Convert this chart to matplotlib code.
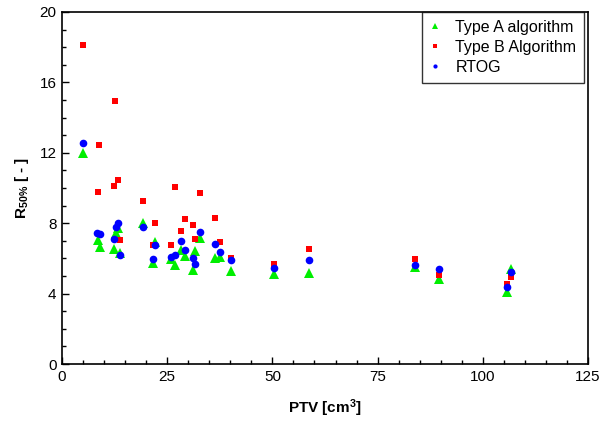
import matplotlib
matplotlib.use("Agg")
import matplotlib.pyplot as plt
from matplotlib.ticker import MultipleLocator

plt.rcParams['font.family'] = ['Liberation Sans', 'DejaVu Sans']
plt.rcParams['mathtext.fontset'] = 'custom'
plt.rcParams['mathtext.rm'] = 'Liberation Sans'
plt.rcParams['mathtext.bf'] = 'Liberation Sans:bold'
plt.rcParams['mathtext.default'] = 'bf'

# PTV volumes (cm^3)
ptv = [4.9, 8.5, 9.0, 12.4, 12.8, 13.3, 13.8,
       19.2, 21.7, 22.0, 25.8, 26.9, 28.3, 29.3, 31.1, 31.5, 32.7,
       36.4, 37.6, 40.2, 50.4, 58.7, 84.0, 89.6, 105.8, 106.8]

type_a = [12.0, 7.05, 6.63, 6.55, 7.45, 7.7, 6.3,
          8.0, 5.72, 6.95, 5.98, 5.65, 6.48, 6.14, 5.34, 6.43, 7.14,
          6.02, 6.08, 5.31, 5.1, 5.17, 5.49, 4.85, 4.11, 5.38]

ptv_b = [4.9, 8.5, 8.7, 12.4, 12.7, 13.2, 13.8,
         19.2, 21.6, 22.0, 25.8, 26.9, 28.3, 29.3, 31.1, 31.5, 32.7,
         36.4, 37.6, 40.2, 50.4, 58.7, 84.0, 89.6, 105.8, 106.8]
type_b = [18.15, 9.75, 12.45, 10.1, 14.93, 10.47, 7.02,
          9.26, 6.76, 8.03, 6.75, 10.03, 7.58, 8.22, 7.88, 7.12, 9.7,
          8.27, 6.91, 6.04, 5.68, 6.53, 5.95, 5.08, 4.55, 4.96]

ptv_r = [4.9, 8.3, 9.0, 12.4, 12.8, 13.2, 13.8,
         19.2, 21.7, 22.0, 25.8, 26.9, 28.3, 29.3, 31.1, 31.5, 32.7,
         36.4, 37.6, 40.2, 50.4, 58.7, 84.0, 89.6, 105.8, 106.8]
rtog = [12.54, 7.45, 7.4, 7.12, 7.78, 8.03, 6.17,
        7.8, 5.97, 6.78, 6.08, 6.22, 7.0, 6.47, 6.0, 5.68, 7.5,
        6.83, 6.37, 5.93, 5.44, 5.89, 5.6, 5.40, 4.39, 5.24]

fig = plt.figure(figsize=(6.0, 4.22), dpi=100)
ax = fig.add_axes([0.1033, 0.1374, 0.8767, 0.8342])

ax.plot(ptv, type_a, linestyle='none', marker='^', color='#00ee00',
        markersize=7, markeredgewidth=0, label='Type A algorithm')
ax.plot(ptv_b, type_b, linestyle='none', marker='s', color='#ff0000',
        markersize=5, markeredgewidth=0, label='Type B Algorithm')
ax.plot(ptv_r, rtog, linestyle='none', marker='o', color='#0000ff',
        markersize=5.5, markeredgewidth=0, label='RTOG')

ax.set_xlim(0, 125)
ax.set_ylim(0, 20)
ax.xaxis.set_major_locator(MultipleLocator(25))
ax.xaxis.set_minor_locator(MultipleLocator(5))
ax.yaxis.set_major_locator(MultipleLocator(4))
ax.yaxis.set_minor_locator(MultipleLocator(1))
ax.tick_params(which='both', direction='in', top=False, right=False,
               labelsize=11, colors='black', width=1.0)
ax.tick_params(which='major', length=5, pad=4)
ax.tick_params(which='minor', length=3)
for s in ax.spines.values():
    s.set_linewidth(1.2)
    s.set_color('black')

ax.set_xlabel('PTV [cm$^3$]', fontsize=11, fontweight='bold', labelpad=10)
ax.set_ylabel(r'R$_{50\%}$ [ - ]', fontsize=11, fontweight='bold', labelpad=6)

leg = ax.legend(loc='upper right', bbox_to_anchor=(0.993, 1.0),
                fontsize=11.5, frameon=True, fancybox=False,
                edgecolor='black', markerscale=0.55, handlelength=0.6,
                handletextpad=1.0, borderpad=0.5, labelspacing=0.3,
                borderaxespad=0.0)
leg.get_frame().set_linewidth(1.0)

fig.savefig('out.png', dpi=100)
